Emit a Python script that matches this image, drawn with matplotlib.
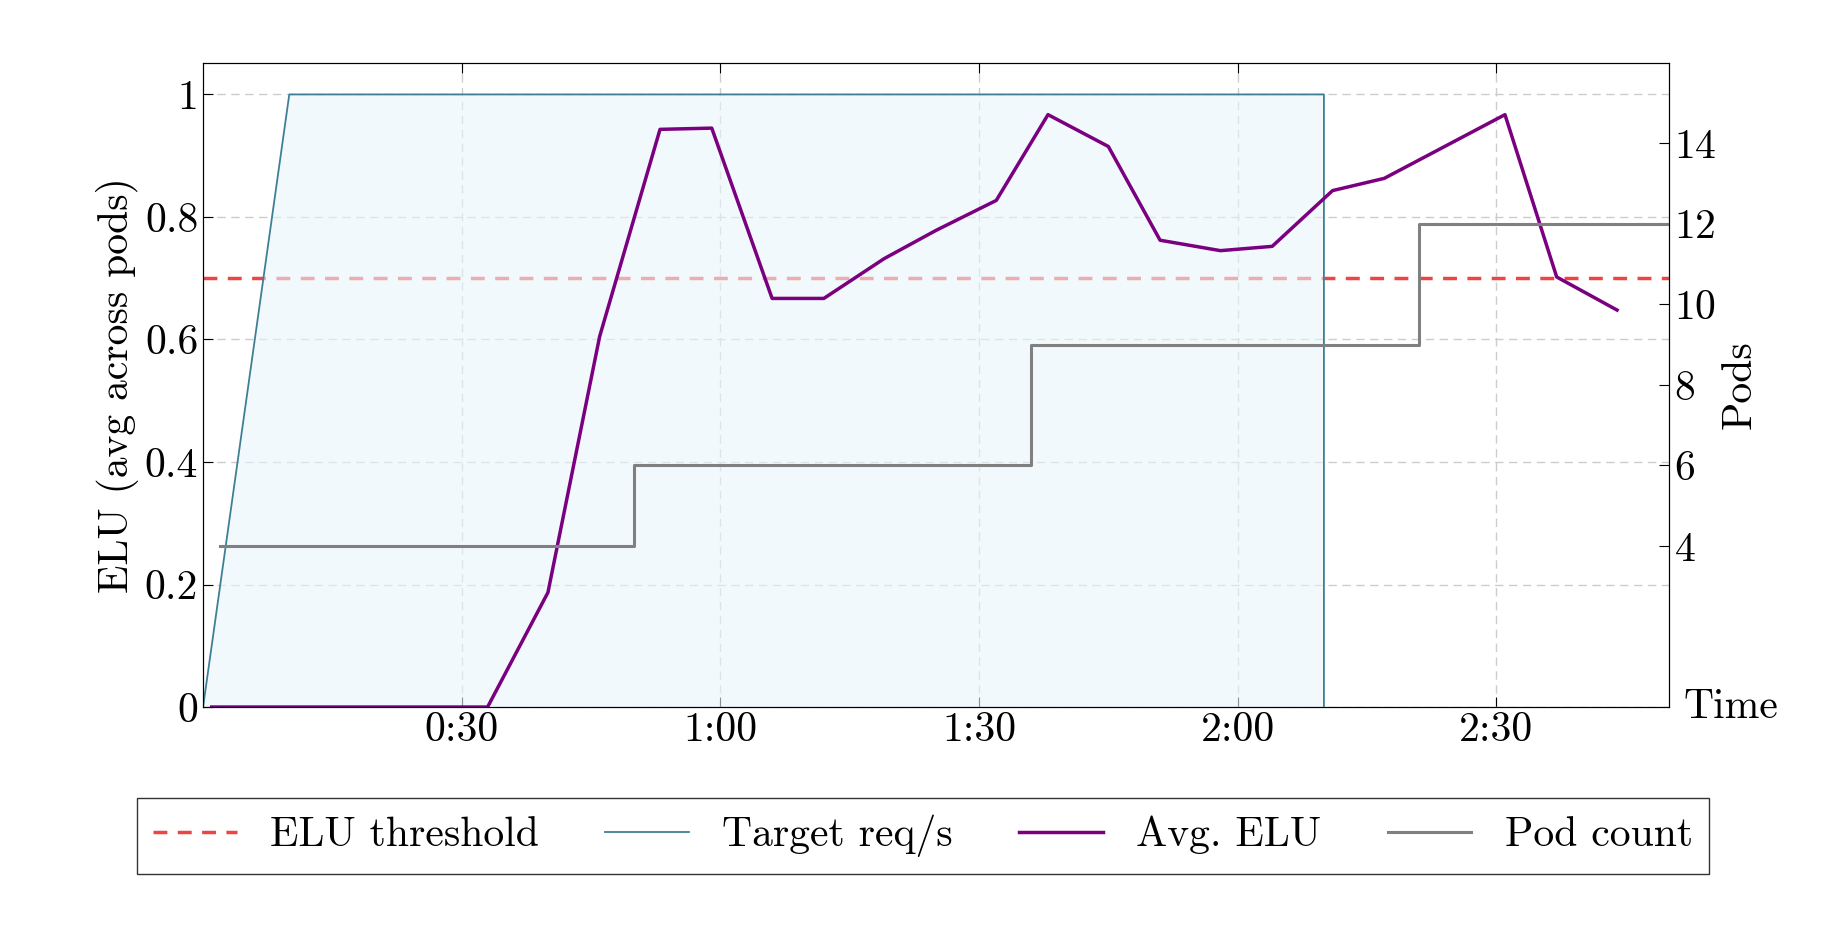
import numpy as np
import matplotlib
matplotlib.use('Agg')
import matplotlib.pyplot as plt

plt.rcParams['font.family'] = 'serif'
plt.rcParams['font.serif'] = ['cmr10', 'DejaVu Serif']
plt.rcParams['axes.formatter.use_mathtext'] = True
plt.rcParams['mathtext.fontset'] = 'cm'

# time in seconds
target_t = [0, 10, 130, 130]
target_v = [0, 1, 1, 0]

pod_t = [2, 50, 96, 141, 170]
pod_v = [4, 6, 9, 12, 12]

elu_t = [1, 33, 40, 46, 53, 59, 66, 72, 79, 85, 92, 98, 105, 111, 118, 124,
         131, 137, 151, 157, 164]
elu_v = [0, 0, 0.187, 0.605, 0.943, 0.945, 0.667, 0.667, 0.732, 0.778, 0.827,
         0.967, 0.915, 0.762, 0.745, 0.752, 0.843, 0.863, 0.967, 0.702, 0.648]

threshold = 0.7
xticks = [30, 60, 90, 120, 150]
xticklabels = ['0:30', '1:00', '1:30', '2:00', '2:30']

fig = plt.figure(figsize=(18.46, 9.34), dpi=100)
ax = fig.add_axes([0.110, 0.243, 0.794, 0.690])
ax2 = ax.twinx()

fs = 30
l_thr = ax.axhline(threshold, color='#ee4444', ls=(0, (4, 3)), lw=2.5,
                   label='ELU threshold', zorder=1)
ax.fill_between(target_t, target_v, color='#eaf5fa', alpha=0.6, lw=0, zorder=2)
l_tgt, = ax.plot(target_t, target_v, color='#3f7f96', lw=1.3, label='Target req/s', zorder=3)
l_elu, = ax.plot(elu_t, elu_v, color='#7a0080', lw=2.5, label='Avg. ELU', zorder=5)
l_pod, = ax2.step(pod_t, pod_v, where='post', color='#808080', lw=2.2, label='Pod count')

ax.set_xlim(0, 170)
ax.set_ylim(0, 1.052)
ax2.set_ylim(0, 16)
ax.set_xticks(xticks)
ax.set_xticklabels(xticklabels)
ax.set_yticks([0, 0.2, 0.4, 0.6, 0.8, 1])
ax.set_yticklabels(['0', '0.2', '0.4', '0.6', '0.8', '1'])
ax2.set_yticks([4, 6, 8, 10, 12, 14])
ax.grid(True, color='#cccccc', ls=(0, (6, 4)), lw=1)
ax.tick_params(labelsize=fs, direction='in', length=7, top=True)
ax2.tick_params(labelsize=fs, direction='in', length=7)
ax.set_ylabel('ELU (avg across pods)', fontsize=fs)
ax2.set_ylabel('Pods', fontsize=fs)
ax.text(1.01, 0.0, 'Time', transform=ax.transAxes, fontsize=fs, va='center', ha='left')

fig.legend(handles=[l_thr, l_tgt, l_elu, l_pod], loc='center',
           bbox_to_anchor=(0.5, 0.105), ncol=4, fontsize=fs, frameon=True,
           fancybox=False, edgecolor='black', handlelength=2.0, columnspacing=1.6,
           borderpad=0.4)

fig.savefig('out.png', dpi=100)
